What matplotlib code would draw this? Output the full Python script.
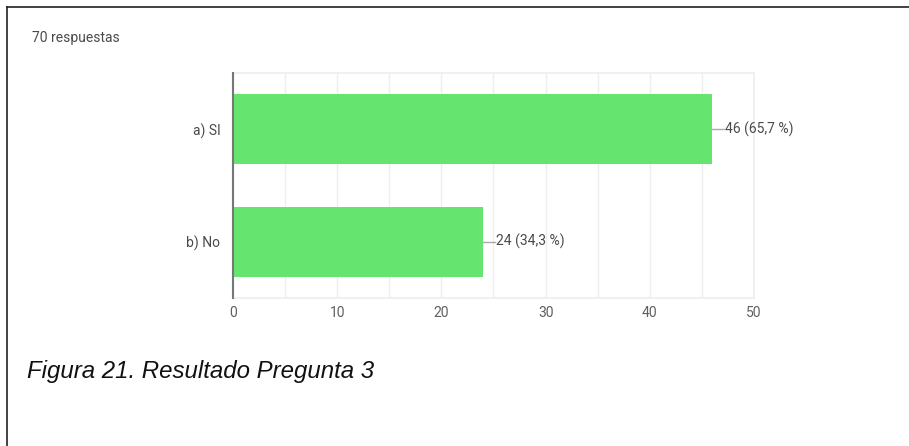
import numpy as np
import matplotlib.pyplot as plt
from matplotlib.lines import Line2D

# data
categories = ["a) SI", "b) No"]
counts = [46, 24]
percents = ["65,7 %", "34,3 %"]
total_label = "70 respuestas"
caption = "Figura 21. Resultado Pregunta 3"
x_ticks = [0, 10, 20, 30, 40, 50]

BAR_GREEN = "#65E470"
TEXT_GRAY = "#4a4a4a"
TICK_GRAY = "#5f5f5f"
GRID_GRAY = "#EEEEEE"

W, H = 909, 446
fig = plt.figure(figsize=(W / 100, H / 100), dpi=100)
fig.patch.set_facecolor("white")

ax = fig.add_axes([233 / W, 1 - 298 / H, (754 - 233) / W, (298 - 73) / H])

y = np.arange(len(categories))
ax.barh(y, counts, height=0.62, color=BAR_GREEN, zorder=3)

ax.set_xlim(0, 50)
ax.set_ylim(len(categories) - 0.5, -0.5)
ax.set_yticks(y)
ax.set_yticklabels(categories)
ax.set_xticks(x_ticks)
ax.set_xticks([5, 15, 25, 35, 45], minor=True)
ax.grid(axis="x", which="both", color=GRID_GRAY, linewidth=1, zorder=0)
ax.tick_params(axis="both", which="both", length=0, labelsize=10, labelcolor=TEXT_GRAY)
ax.tick_params(axis="x", pad=6, labelcolor=TICK_GRAY)
ax.tick_params(axis="y", pad=9)
for lab in ax.get_xticklabels() + ax.get_yticklabels():
    lab.set_family("Roboto")

for s in ["top", "right", "bottom"]:
    ax.spines[s].set_color(GRID_GRAY)
    ax.spines[s].set_linewidth(1.2)
ax.spines["left"].set_color("#777777")
ax.spines["left"].set_linewidth(1.5)
ax.spines["left"].set_zorder(4)

# value labels with short leader line
for yi, c, p in zip(y, counts, percents):
    ax.plot([c, c + 1.1], [yi, yi], color="#aaaaaa", linewidth=1, zorder=4, clip_on=False)
    ax.text(c + 1.2, yi, f"{c} ({p})", va="center", ha="left", fontsize=10,
            color=TEXT_GRAY, family="Roboto")

fig.text(32 / W, 1 - 38 / H, total_label, fontsize=10, color=TEXT_GRAY,
         family="Roboto", va="center", ha="left")
fig.text(27 / W, 1 - 378 / H, caption, fontsize=17.3, style="italic",
         family="Liberation Sans", color="#111111", va="baseline", ha="left")

# outer frame (top and left edges)
fig.add_artist(Line2D([7 / W, 1], [1 - 7 / H, 1 - 7 / H], transform=fig.transFigure,
                      color="#222222", linewidth=1.2))
fig.add_artist(Line2D([7 / W, 7 / W], [1 - 7 / H, 0], transform=fig.transFigure,
                      color="#222222", linewidth=1.2))

fig.savefig("out.png", dpi=100, facecolor="white")
